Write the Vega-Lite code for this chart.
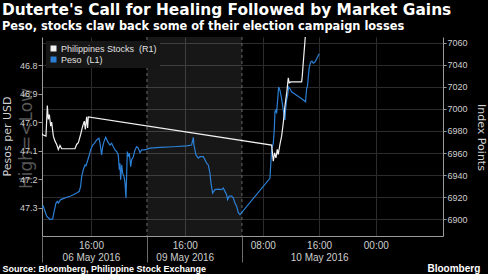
{
  "$schema": "https://vega.github.io/schema/vega-lite/v6.json",
  "width": 401,
  "height": 199,
  "autosize": {"type": "none"},
  "padding": {"left": 42, "top": 37, "right": 45, "bottom": 38},
  "background": "#000000",
  "config": {"view": {"stroke": null}, "font": "DejaVu Sans"},
  "title": {
    "text": "Duterte's Call for Healing Followed by Market Gains",
    "subtitle": "Peso, stocks claw back some of their election campaign losses",
    "anchor": "start",
    "frame": "group",
    "dx": -40,
    "offset": 4,
    "font": "DejaVu Sans",
    "fontSize": 15.4,
    "fontWeight": "bold",
    "color": "#ffffff",
    "subtitleFont": "DejaVu Sans",
    "subtitleFontSize": 11.4,
    "subtitleFontWeight": "bold",
    "subtitleColor": "#ffffff",
    "subtitlePadding": 3
  },
  "datasets": {
    "sessions": [{"start": 15, "end": 28.57}],
    "breaks": [{"t": 15}, {"t": 28.57}],
    "series": [
      {"series": "Peso\u00a0 (L1)", "t": 0, "v": 47.301},
      {"series": "Peso\u00a0 (L1)", "t": 0.19, "v": 47.295},
      {"series": "Peso\u00a0 (L1)", "t": 0.43, "v": 47.313},
      {"series": "Peso\u00a0 (L1)", "t": 0.67, "v": 47.33},
      {"series": "Peso\u00a0 (L1)", "t": 1.14, "v": 47.342},
      {"series": "Peso\u00a0 (L1)", "t": 1.52, "v": 47.34},
      {"series": "Peso\u00a0 (L1)", "t": 1.71, "v": 47.316},
      {"series": "Peso\u00a0 (L1)", "t": 2.0, "v": 47.284},
      {"series": "Peso\u00a0 (L1)", "t": 2.19, "v": 47.278},
      {"series": "Peso\u00a0 (L1)", "t": 2.33, "v": 47.284},
      {"series": "Peso\u00a0 (L1)", "t": 2.67, "v": 47.272},
      {"series": "Peso\u00a0 (L1)", "t": 3.29, "v": 47.266},
      {"series": "Peso\u00a0 (L1)", "t": 4.0, "v": 47.26},
      {"series": "Peso\u00a0 (L1)", "t": 4.48, "v": 47.255},
      {"series": "Peso\u00a0 (L1)", "t": 4.95, "v": 47.249},
      {"series": "Peso\u00a0 (L1)", "t": 5.33, "v": 47.243},
      {"series": "Peso\u00a0 (L1)", "t": 5.52, "v": 47.225},
      {"series": "Peso\u00a0 (L1)", "t": 5.67, "v": 47.19},
      {"series": "Peso\u00a0 (L1)", "t": 5.9, "v": 47.167},
      {"series": "Peso\u00a0 (L1)", "t": 6.14, "v": 47.15},
      {"series": "Peso\u00a0 (L1)", "t": 6.29, "v": 47.153},
      {"series": "Peso\u00a0 (L1)", "t": 6.48, "v": 47.138},
      {"series": "Peso\u00a0 (L1)", "t": 6.76, "v": 47.115},
      {"series": "Peso\u00a0 (L1)", "t": 6.95, "v": 47.097},
      {"series": "Peso\u00a0 (L1)", "t": 7.24, "v": 47.08},
      {"series": "Peso\u00a0 (L1)", "t": 7.48, "v": 47.074},
      {"series": "Peso\u00a0 (L1)", "t": 7.81, "v": 47.062},
      {"series": "Peso\u00a0 (L1)", "t": 8.14, "v": 47.056},
      {"series": "Peso\u00a0 (L1)", "t": 8.29, "v": 47.074},
      {"series": "Peso\u00a0 (L1)", "t": 8.52, "v": 47.115},
      {"series": "Peso\u00a0 (L1)", "t": 8.67, "v": 47.086},
      {"series": "Peso\u00a0 (L1)", "t": 8.86, "v": 47.068},
      {"series": "Peso\u00a0 (L1)", "t": 9.1, "v": 47.053},
      {"series": "Peso\u00a0 (L1)", "t": 9.38, "v": 47.068},
      {"series": "Peso\u00a0 (L1)", "t": 9.71, "v": 47.08},
      {"series": "Peso\u00a0 (L1)", "t": 9.95, "v": 47.074},
      {"series": "Peso\u00a0 (L1)", "t": 10.19, "v": 47.086},
      {"series": "Peso\u00a0 (L1)", "t": 10.43, "v": 47.097},
      {"series": "Peso\u00a0 (L1)", "t": 10.67, "v": 47.103},
      {"series": "Peso\u00a0 (L1)", "t": 10.9, "v": 47.115},
      {"series": "Peso\u00a0 (L1)", "t": 11.05, "v": 47.167},
      {"series": "Peso\u00a0 (L1)", "t": 11.14, "v": 47.144},
      {"series": "Peso\u00a0 (L1)", "t": 11.24, "v": 47.202},
      {"series": "Peso\u00a0 (L1)", "t": 11.38, "v": 47.15},
      {"series": "Peso\u00a0 (L1)", "t": 11.52, "v": 47.179},
      {"series": "Peso\u00a0 (L1)", "t": 11.71, "v": 47.19},
      {"series": "Peso\u00a0 (L1)", "t": 11.86, "v": 47.213},
      {"series": "Peso\u00a0 (L1)", "t": 12.0, "v": 47.266},
      {"series": "Peso\u00a0 (L1)", "t": 12.1, "v": 47.179},
      {"series": "Peso\u00a0 (L1)", "t": 12.19, "v": 47.103},
      {"series": "Peso\u00a0 (L1)", "t": 12.33, "v": 47.121},
      {"series": "Peso\u00a0 (L1)", "t": 12.48, "v": 47.109},
      {"series": "Peso\u00a0 (L1)", "t": 12.67, "v": 47.156},
      {"series": "Peso\u00a0 (L1)", "t": 12.81, "v": 47.132},
      {"series": "Peso\u00a0 (L1)", "t": 13.05, "v": 47.121},
      {"series": "Peso\u00a0 (L1)", "t": 13.29, "v": 47.097},
      {"series": "Peso\u00a0 (L1)", "t": 13.52, "v": 47.086},
      {"series": "Peso\u00a0 (L1)", "t": 13.76, "v": 47.091},
      {"series": "Peso\u00a0 (L1)", "t": 14.0, "v": 47.107},
      {"series": "Peso\u00a0 (L1)", "t": 14.24, "v": 47.097},
      {"series": "Peso\u00a0 (L1)", "t": 14.71, "v": 47.097},
      {"series": "Peso\u00a0 (L1)", "t": 15.43, "v": 47.091},
      {"series": "Peso\u00a0 (L1)", "t": 16.86, "v": 47.088},
      {"series": "Peso\u00a0 (L1)", "t": 18.76, "v": 47.086},
      {"series": "Peso\u00a0 (L1)", "t": 20.67, "v": 47.083},
      {"series": "Peso\u00a0 (L1)", "t": 21.38, "v": 47.08},
      {"series": "Peso\u00a0 (L1)", "t": 21.62, "v": 47.053},
      {"series": "Peso\u00a0 (L1)", "t": 21.71, "v": 47.08},
      {"series": "Peso\u00a0 (L1)", "t": 22.0, "v": 47.115},
      {"series": "Peso\u00a0 (L1)", "t": 22.33, "v": 47.126},
      {"series": "Peso\u00a0 (L1)", "t": 22.57, "v": 47.121},
      {"series": "Peso\u00a0 (L1)", "t": 23.05, "v": 47.121},
      {"series": "Peso\u00a0 (L1)", "t": 23.29, "v": 47.132},
      {"series": "Peso\u00a0 (L1)", "t": 23.52, "v": 47.144},
      {"series": "Peso\u00a0 (L1)", "t": 23.76, "v": 47.15},
      {"series": "Peso\u00a0 (L1)", "t": 24.0, "v": 47.179},
      {"series": "Peso\u00a0 (L1)", "t": 24.14, "v": 47.213},
      {"series": "Peso\u00a0 (L1)", "t": 24.38, "v": 47.249},
      {"series": "Peso\u00a0 (L1)", "t": 24.71, "v": 47.237},
      {"series": "Peso\u00a0 (L1)", "t": 25.19, "v": 47.235},
      {"series": "Peso\u00a0 (L1)", "t": 25.67, "v": 47.237},
      {"series": "Peso\u00a0 (L1)", "t": 25.9, "v": 47.231},
      {"series": "Peso\u00a0 (L1)", "t": 26.14, "v": 47.243},
      {"series": "Peso\u00a0 (L1)", "t": 26.38, "v": 47.255},
      {"series": "Peso\u00a0 (L1)", "t": 26.52, "v": 47.272},
      {"series": "Peso\u00a0 (L1)", "t": 26.76, "v": 47.26},
      {"series": "Peso\u00a0 (L1)", "t": 27.1, "v": 47.26},
      {"series": "Peso\u00a0 (L1)", "t": 27.33, "v": 47.266},
      {"series": "Peso\u00a0 (L1)", "t": 27.57, "v": 47.284},
      {"series": "Peso\u00a0 (L1)", "t": 27.81, "v": 47.295},
      {"series": "Peso\u00a0 (L1)", "t": 28.05, "v": 47.318},
      {"series": "Peso\u00a0 (L1)", "t": 28.29, "v": 47.325},
      {"series": "Peso\u00a0 (L1)", "t": 32.57, "v": 47.197},
      {"series": "Peso\u00a0 (L1)", "t": 32.81, "v": 47.097},
      {"series": "Peso\u00a0 (L1)", "t": 33.05, "v": 47.074},
      {"series": "Peso\u00a0 (L1)", "t": 33.19, "v": 47.027},
      {"series": "Peso\u00a0 (L1)", "t": 33.29, "v": 46.963},
      {"series": "Peso\u00a0 (L1)", "t": 33.43, "v": 46.957},
      {"series": "Peso\u00a0 (L1)", "t": 33.52, "v": 46.969},
      {"series": "Peso\u00a0 (L1)", "t": 33.67, "v": 46.922},
      {"series": "Peso\u00a0 (L1)", "t": 33.81, "v": 46.876},
      {"series": "Peso\u00a0 (L1)", "t": 34.0, "v": 46.887},
      {"series": "Peso\u00a0 (L1)", "t": 34.24, "v": 46.917},
      {"series": "Peso\u00a0 (L1)", "t": 34.48, "v": 46.957},
      {"series": "Peso\u00a0 (L1)", "t": 34.71, "v": 46.992},
      {"series": "Peso\u00a0 (L1)", "t": 34.81, "v": 46.957},
      {"series": "Peso\u00a0 (L1)", "t": 34.95, "v": 46.922},
      {"series": "Peso\u00a0 (L1)", "t": 35.1, "v": 46.905},
      {"series": "Peso\u00a0 (L1)", "t": 35.24, "v": 46.876},
      {"series": "Peso\u00a0 (L1)", "t": 35.43, "v": 46.882},
      {"series": "Peso\u00a0 (L1)", "t": 35.67, "v": 46.893},
      {"series": "Peso\u00a0 (L1)", "t": 36.38, "v": 46.905},
      {"series": "Peso\u00a0 (L1)", "t": 37.1, "v": 46.917},
      {"series": "Peso\u00a0 (L1)", "t": 37.67, "v": 46.928},
      {"series": "Peso\u00a0 (L1)", "t": 37.71, "v": 46.911},
      {"series": "Peso\u00a0 (L1)", "t": 37.81, "v": 46.882},
      {"series": "Peso\u00a0 (L1)", "t": 37.95, "v": 46.87},
      {"series": "Peso\u00a0 (L1)", "t": 38.05, "v": 46.841},
      {"series": "Peso\u00a0 (L1)", "t": 38.19, "v": 46.806},
      {"series": "Peso\u00a0 (L1)", "t": 38.38, "v": 46.788},
      {"series": "Peso\u00a0 (L1)", "t": 38.57, "v": 46.785},
      {"series": "Peso\u00a0 (L1)", "t": 38.76, "v": 46.792},
      {"series": "Peso\u00a0 (L1)", "t": 39.0, "v": 46.788},
      {"series": "Peso\u00a0 (L1)", "t": 39.24, "v": 46.777},
      {"series": "Peso\u00a0 (L1)", "t": 39.48, "v": 46.765},
      {"series": "Peso\u00a0 (L1)", "t": 39.62, "v": 46.759},
      {"series": "Philippines Stocks\u00a0 (R1)", "t": 0, "v": 6977.7},
      {"series": "Philippines Stocks\u00a0 (R1)", "t": 0.1, "v": 6976.5},
      {"series": "Philippines Stocks\u00a0 (R1)", "t": 0.57, "v": 6975.3},
      {"series": "Philippines Stocks\u00a0 (R1)", "t": 0.76, "v": 7003.0},
      {"series": "Philippines Stocks\u00a0 (R1)", "t": 0.9, "v": 6990.4},
      {"series": "Philippines Stocks\u00a0 (R1)", "t": 1.05, "v": 6994.9},
      {"series": "Philippines Stocks\u00a0 (R1)", "t": 1.24, "v": 6984.3},
      {"series": "Philippines Stocks\u00a0 (R1)", "t": 1.38, "v": 6988.0},
      {"series": "Philippines Stocks\u00a0 (R1)", "t": 1.62, "v": 6975.3},
      {"series": "Philippines Stocks\u00a0 (R1)", "t": 1.86, "v": 6970.8},
      {"series": "Philippines Stocks\u00a0 (R1)", "t": 2.1, "v": 6967.8},
      {"series": "Philippines Stocks\u00a0 (R1)", "t": 2.33, "v": 6963.3},
      {"series": "Philippines Stocks\u00a0 (R1)", "t": 2.57, "v": 6966.9},
      {"series": "Philippines Stocks\u00a0 (R1)", "t": 2.81, "v": 6963.9},
      {"series": "Philippines Stocks\u00a0 (R1)", "t": 3.14, "v": 6963.9},
      {"series": "Philippines Stocks\u00a0 (R1)", "t": 4.71, "v": 6963.9},
      {"series": "Philippines Stocks\u00a0 (R1)", "t": 4.95, "v": 6967.8},
      {"series": "Philippines Stocks\u00a0 (R1)", "t": 5.19, "v": 6969.3},
      {"series": "Philippines Stocks\u00a0 (R1)", "t": 5.52, "v": 6976.8},
      {"series": "Philippines Stocks\u00a0 (R1)", "t": 5.81, "v": 6984.3},
      {"series": "Philippines Stocks\u00a0 (R1)", "t": 6.05, "v": 6988.9},
      {"series": "Philippines Stocks\u00a0 (R1)", "t": 6.19, "v": 6981.3},
      {"series": "Philippines Stocks\u00a0 (R1)", "t": 6.38, "v": 6992.8},
      {"series": "Philippines Stocks\u00a0 (R1)", "t": 6.52, "v": 6982.8},
      {"series": "Philippines Stocks\u00a0 (R1)", "t": 6.62, "v": 6992.8},
      {"series": "Philippines Stocks\u00a0 (R1)", "t": 32.81, "v": 6967.2},
      {"series": "Philippines Stocks\u00a0 (R1)", "t": 33.05, "v": 6952.7},
      {"series": "Philippines Stocks\u00a0 (R1)", "t": 33.24, "v": 6960.2},
      {"series": "Philippines Stocks\u00a0 (R1)", "t": 33.43, "v": 6955.7},
      {"series": "Philippines Stocks\u00a0 (R1)", "t": 33.62, "v": 6963.3},
      {"series": "Philippines Stocks\u00a0 (R1)", "t": 33.76, "v": 6958.7},
      {"series": "Philippines Stocks\u00a0 (R1)", "t": 34.0, "v": 6967.8},
      {"series": "Philippines Stocks\u00a0 (R1)", "t": 34.24, "v": 6975.3},
      {"series": "Philippines Stocks\u00a0 (R1)", "t": 34.48, "v": 6987.4},
      {"series": "Philippines Stocks\u00a0 (R1)", "t": 34.71, "v": 7002.4},
      {"series": "Philippines Stocks\u00a0 (R1)", "t": 35.0, "v": 7016.0},
      {"series": "Philippines Stocks\u00a0 (R1)", "t": 35.19, "v": 7028.1},
      {"series": "Philippines Stocks\u00a0 (R1)", "t": 35.33, "v": 7023.5},
      {"series": "Philippines Stocks\u00a0 (R1)", "t": 35.57, "v": 7024.4},
      {"series": "Philippines Stocks\u00a0 (R1)", "t": 37.1, "v": 7024.4},
      {"series": "Philippines Stocks\u00a0 (R1)", "t": 37.19, "v": 7029.6},
      {"series": "Philippines Stocks\u00a0 (R1)", "t": 37.33, "v": 7041.6},
      {"series": "Philippines Stocks\u00a0 (R1)", "t": 37.62, "v": 7065}
    ]
  },
  "layer": [
    {
      "data": {"name": "sessions"},
      "mark": {"type": "rect", "fill": "#ffffff", "fillOpacity": 0.09},
      "encoding": {
        "x": {
          "field": "start", "type": "quantitative",
          "scale": {"domain": [0, 57.3], "nice": false, "zero": false},
          "axis": {
            "orient": "bottom", "values": [0, 15, 28.57], "labels": false, "domain": false, "grid": false,
            "ticks": true, "tickSize": 26, "tickColor": "#6a6a6a", "tickWidth": 1,
            "title": "High=<Low", "titleAngle": 270, "titleX": -16, "titleY": -98,
            "titleFont": "DejaVu Sans", "titleFontSize": 17, "titleFontWeight": "normal", "titleColor": "#575757",
            "titleAlign": "center", "titleBaseline": "middle"
          }
        },
        "x2": {"field": "end"}
      }
    },
    {
      "data": {"name": "breaks"},
      "mark": {"type": "rule", "color": "#6a6a6a", "strokeDash": [3, 3], "strokeWidth": 1},
      "encoding": {
        "x": {
          "field": "t", "type": "quantitative",
          "scale": {"domain": [0, 57.3], "nice": false, "zero": false},
          "axis": {
            "orient": "bottom", "labels": false, "ticks": false, "domain": false, "grid": false,
            "title": "Bloomberg", "titleX": 385, "titleY": 35, "titleAlign": "left", "titleBaseline": "alphabetic",
            "titleFont": "Liberation Sans", "titleFontSize": 10, "titleFontWeight": "bold", "titleColor": "#ffffff"
          }
        }
      }
    },
    {
      "data": {"name": "series"},
      "transform": [{"filter": "datum.series === 'Peso\u00a0 (L1)'"}],
      "mark": {"type": "line", "strokeWidth": 1.2, "clip": true},
      "encoding": {
        "x": {
          "field": "t", "type": "quantitative",
          "scale": {"domain": [0, 57.3], "nice": false, "zero": false},
          "axis": {
            "orient": "bottom", "values": [7, 20.4, 31.55, 39.6, 47.7],
            "labelExpr": "datum.value < 10 ? ['16:00', '06 May 2016'] : datum.value < 25 ? ['16:00', '09 May 2016'] : datum.value < 35 ? '08:00' : datum.value < 44 ? ['16:00', '10 May 2016'] : '00:00'",
            "grid": true, "gridColor": "#2c2c2c", "domain": true, "domainColor": "#9a9a9a", "ticks": false,
            "labelFont": "Liberation Sans", "labelFontSize": 10, "labelColor": "#cfcfcf", "labelPadding": 4,
            "labelLineHeight": 12.5, "labelOverlap": false, "labelFlush": false,
            "title": "Source: Bloomberg, Philippine Stock Exchange", "titleX": -40, "titleY": 35,
            "titleAlign": "left", "titleBaseline": "alphabetic",
            "titleFont": "Liberation Sans", "titleFontSize": 9, "titleFontWeight": "bold", "titleColor": "#ffffff"
          }
        },
        "y": {
          "field": "v", "type": "quantitative",
          "scale": {"domain": [46.7, 47.4], "reverse": true, "nice": false, "zero": false},
          "axis": {
            "orient": "left", "values": [46.8, 46.9, 47.0, 47.1, 47.2, 47.3], "format": ".1f",
            "grid": false, "tickSize": 4, "tickColor": "#9a9a9a", "domainColor": "#9a9a9a",
            "labelFont": "Liberation Sans", "labelFontSize": 9, "labelColor": "#cfcfcf", "labelPadding": 1,
            "title": "Pesos per USD", "titleFont": "DejaVu Sans", "titleFontSize": 11, "titleFontWeight": "normal",
            "titleColor": "#d0d0d0", "titleX": -35, "titleY": 99, "titleAngle": 270,
            "titleAlign": "center", "titleBaseline": "middle"
          }
        },
        "color": {
          "field": "series", "type": "nominal",
          "scale": {"domain": ["Philippines Stocks\u00a0 (R1)", "Peso\u00a0 (L1)"], "range": ["#f2f2f2", "#2b7fd4"]},
          "legend": {
            "title": null, "orient": "top-left", "offset": 4, "fillColor": "#161616", "padding": 3,
            "symbolType": "square", "symbolSize": 36, "symbolStrokeWidth": 0,
            "labelFont": "Liberation Sans", "labelFontSize": 9, "labelColor": "#e0e0e0", "rowPadding": 1,
            "labelOffset": 3,
            "encode": {"symbols": {"update": {"fill": {"scale": "color", "field": "value"}, "stroke": {"value": "transparent"}}}}
          }
        }
      }
    },
    {
      "data": {"name": "series"},
      "transform": [{"filter": "datum.series !== 'Peso\u00a0 (L1)'"}],
      "mark": {"type": "line", "strokeWidth": 1.2, "clip": true},
      "encoding": {
        "x": {
          "field": "t", "type": "quantitative",
          "scale": {"domain": [0, 57.3], "nice": false, "zero": false},
          "axis": null
        },
        "y": {
          "field": "v", "type": "quantitative",
          "scale": {"domain": [6885, 7065], "nice": false, "zero": false},
          "axis": {
            "orient": "right", "values": [6900, 6920, 6940, 6960, 6980, 7000, 7020, 7040, 7060], "format": "d",
            "grid": true, "gridColor": "#2c2c2c", "tickSize": 3, "tickColor": "#9a9a9a", "domainColor": "#9a9a9a",
            "labelFont": "Liberation Sans", "labelFontSize": 9, "labelColor": "#cfcfcf", "labelPadding": 1,
            "title": "Index Points", "titleFont": "DejaVu Sans", "titleFontSize": 11, "titleFontWeight": "normal",
            "titleColor": "#d0d0d0", "titleX": 37, "titleY": 100, "titleAngle": 90,
            "titleAlign": "center", "titleBaseline": "middle"
          }
        },
        "color": {"field": "series", "type": "nominal"}
      }
    }
  ],
  "resolve": {"scale": {"y": "independent"}, "axis": {"x": "independent", "y": "independent"}}
}
